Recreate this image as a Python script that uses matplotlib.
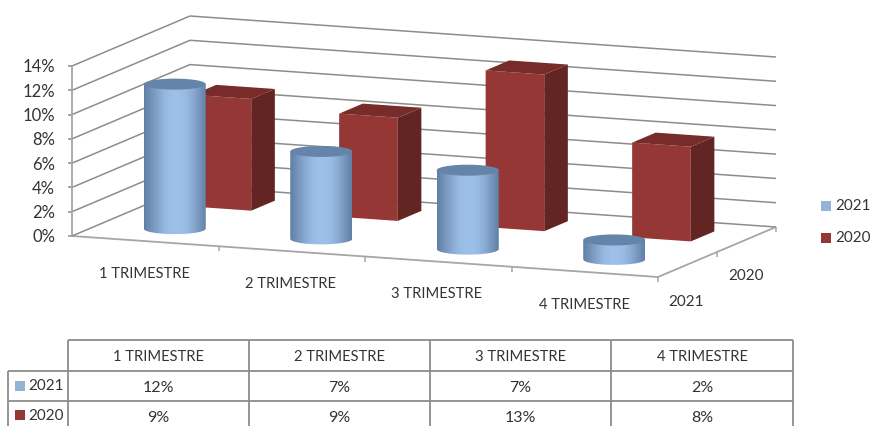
#!/usr/bin/env python3
"""Excel style 3D bar/cylinder chart with data table, drawn in pixel coordinates."""
import numpy as np
import matplotlib
matplotlib.use("Agg")
import matplotlib.pyplot as plt
from matplotlib.colors import LinearSegmentedColormap
from matplotlib.patches import PathPatch, Rectangle
from matplotlib.path import Path

plt.rcParams["font.family"] = ["Lato", "DejaVu Sans"]

CATEGORIES = ["1 TRIMESTRE", "2 TRIMESTRE", "3 TRIMESTRE", "4 TRIMESTRE"]
SERIES = ["2021", "2020"]
VALUES_2021 = [11.9, 7.2, 6.5, 1.6]
VALUES_2020 = [9.2, 8.5, 12.9, 7.8]
TABLE_2021 = ["12%", "7%", "7%", "2%"]
TABLE_2020 = ["9%", "9%", "13%", "8%"]
Y_TICKS = [0, 2, 4, 6, 8, 10, 12, 14]

GRID = "#8c8c8c"
TEXT = "#333333"
BLUE = "#95b3d7"
RED = "#953735"
RED_TOP = "#772c2a"
RED_SIDE = "#632523"

# oblique projection of (category, series, value) onto the image
ORIGIN = np.array([72.0, 236.0])
X_VEC = np.array([586.0, 41.0]) / 4
D_VEC = np.array([118.0, -50.0]) / 2
PX_PER_PCT = 170.0 / 14


def proj(c, s, v=0.0):
    p = ORIGIN + c * X_VEC + s * D_VEC
    return p[0], p[1] - v * PX_PER_PCT


def line(ax, a, b, lw=1.1, color=GRID):
    ax.plot([a[0], b[0]], [a[1], b[1]], color=color, lw=lw, solid_capstyle="butt", zorder=1)


def draw_walls(ax):
    for v in Y_TICKS:
        if v > 0:
            line(ax, proj(0, 0, v), proj(0, 2, v))
            line(ax, proj(0, 2, v), proj(4, 2, v))
        x, y = proj(0, 0, v)
        line(ax, (x - 4, y), (x, y))
        ax.text(x - 17, y + 1.5, f"{v}%", ha="right", va="center", fontsize=12, color=TEXT)
    line(ax, proj(0, 0, 0), proj(0, 0, 14), lw=1.3, color="#a6a6a6")
    line(ax, proj(0, 0), proj(4, 0), lw=1.3, color="#a6a6a6")
    line(ax, proj(4, 0), proj(4, 2), lw=1.3, color="#a6a6a6")
    line(ax, proj(0, 0), proj(0, 2))
    line(ax, proj(0, 2), proj(4, 2))
    for c in [1, 2, 3, 4]:
        x, y = proj(c, 0)
        line(ax, (x, y), (x, y + 5), color="#a6a6a6")
    for s in [1, 2]:
        x, y = proj(4, s)
        line(ax, (x, y), (x, y + 5), color="#a6a6a6")


def draw_box(ax, c, s, v):
    hw, hd = 0.2, 0.2
    z = 3 + c
    fl, fr = c - hw, c + hw
    sf, sb = s - hd, s + hd
    ax.fill(*zip(proj(fl, sf), proj(fr, sf), proj(fr, sf, v), proj(fl, sf, v)), color=RED, lw=0, zorder=z)
    ax.fill(*zip(proj(fr, sf), proj(fr, sb), proj(fr, sb, v), proj(fr, sf, v)), color=RED_SIDE, lw=0, zorder=z)
    ax.fill(*zip(proj(fl, sf, v), proj(fr, sf, v), proj(fr, sb, v), proj(fl, sb, v)), color=RED_TOP, lw=0, zorder=z)


def draw_cylinder(ax, cmap, c, s, v):
    rx, ry = 31.0, 5.5
    z = 10 + c
    cx, yb = proj(c, s)
    yt = yb - v * PX_PER_PCT
    t = np.linspace(0, np.pi, 60)
    low = np.column_stack([cx - rx * np.cos(t), yb + ry * np.sin(t)])
    verts = np.vstack([[cx - rx, yt], low, [cx + rx, yt], [cx - rx, yt]])
    clip = PathPatch(Path(verts), transform=ax.transData, fc="none", ec="none")
    ax.add_patch(clip)
    grad = [0.0, 0.3, 0.6, 0.88, 1.0, 1.0, 0.92, 0.68, 0.35, 0.0]
    shade = np.interp(np.linspace(0, 9, 200), np.arange(10), grad)[None, :]
    im = ax.imshow(shade, cmap=cmap, vmin=0, vmax=1, extent=(cx - rx, cx + rx, yb + ry + 1, yt),
                   aspect="auto", interpolation="bilinear", zorder=z)
    im.set_clip_path(clip)
    t = np.linspace(0, 2 * np.pi, 80)
    ax.fill(cx + rx * np.cos(t), yt + ry * np.sin(t), color="#6484aa", lw=0, zorder=z + 0.1)


def draw_table(ax):
    cols = [68, 249, 430, 611, 793]
    left = 8
    rows = [340, 371, 401, 426]
    for x in cols:
        line(ax, (x, rows[0]), (x, rows[-1]), lw=1.3)
    line(ax, (left, rows[1]), (left, rows[-1]), lw=1.3)
    line(ax, (cols[0], rows[0]), (cols[-1], rows[0]), lw=1.3)
    line(ax, (left, rows[1]), (cols[-1], rows[1]), lw=1.3)
    line(ax, (left, rows[2]), (cols[-1], rows[2]), lw=1.3)
    for i, cat in enumerate(CATEGORIES):
        xm = (cols[i] + cols[i + 1]) / 2
        ax.text(xm, 357, cat, ha="center", va="center", fontsize=10.6, color=TEXT)
        ax.text(xm, 388, TABLE_2021[i], ha="center", va="center", fontsize=11.5, color=TEXT)
        ax.text(xm, 418, TABLE_2020[i], ha="center", va="center", fontsize=11.5, color=TEXT)
    for name, color, y in [(SERIES[0], BLUE, 386), (SERIES[1], RED, 415)]:
        ax.add_patch(Rectangle((15, y - 5), 9.5, 10, color=color, lw=0))
        ax.text(28, y + 0.5, name, ha="left", va="center", fontsize=11, color=TEXT)


def main():
    fig = plt.figure(figsize=(8.72, 4.26), dpi=100)
    ax = fig.add_axes([0, 0, 1, 1])
    cmap = LinearSegmentedColormap.from_list("cyl", ["#5f7fa5", "#7f9fc7", "#9dc0e8"])

    draw_walls(ax)
    for i, v in enumerate(VALUES_2020):
        draw_box(ax, i + 0.5, 1.5, v)
    for i, v in enumerate(VALUES_2021):
        draw_cylinder(ax, cmap, i + 0.5, 0.5, v)

    # category and depth labels
    label_pos = [(144, 274), (290, 284), (437, 294), (584, 305)]
    for cat, (x, y) in zip(CATEGORIES, label_pos):
        ax.text(x, y, cat, ha="center", va="center", fontsize=10.6, color=TEXT)
    ax.text(746, 276, SERIES[1], ha="center", va="center", fontsize=11, color=TEXT)
    ax.text(686, 302, SERIES[0], ha="center", va="center", fontsize=11, color=TEXT)

    # legend
    for name, color, y in [(SERIES[0], BLUE, 206), (SERIES[1], RED, 238)]:
        ax.add_patch(Rectangle((821, y - 5), 9.5, 10, color=color, lw=0))
        ax.text(835, y + 0.5, name, ha="left", va="center", fontsize=11, color=TEXT)

    draw_table(ax)

    ax.set_xlim(0, 872)
    ax.set_ylim(426, 0)
    ax.axis("off")
    fig.savefig("out.png", dpi=100)


if __name__ == "__main__":
    main()
